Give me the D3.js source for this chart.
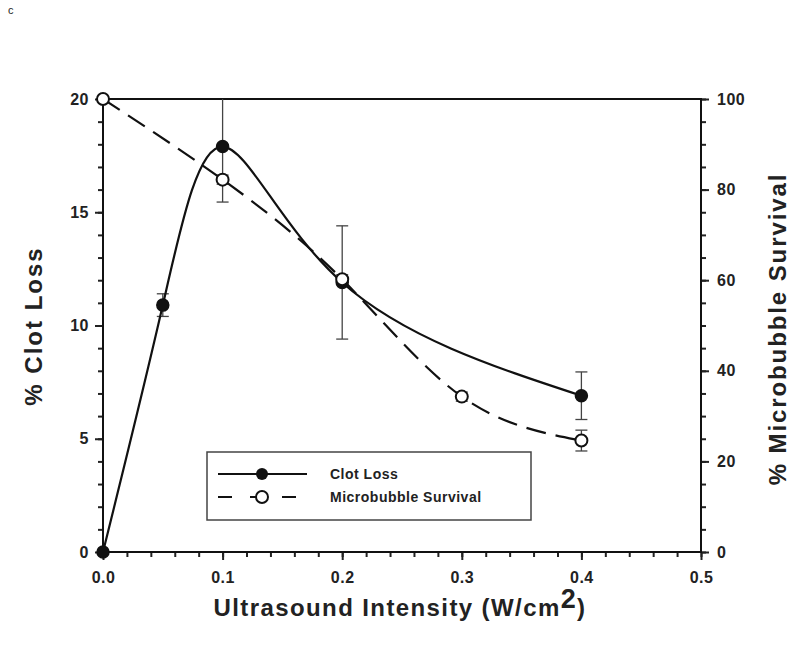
<!DOCTYPE html>
<html>
<head>
<meta charset="utf-8">
<script src="https://cdn.jsdelivr.net/npm/d3@7"></script>
<style>
  body { margin: 0; background: #fff; }
  text { font-family: "Liberation Sans", Arial, sans-serif; font-weight: bold; fill: #222; }
</style>
</head>
<body>
<svg id="chart" width="800" height="651"></svg>
<script>
// data
const clotX = [0, 0.05, 0.1, 0.2, 0.4];
const clotLoss = [0, 10.9, 17.9, 11.9, 6.9];
const clotErr = [0, 0.5, 2.45, 2.5, 1.05];

const bubbleX = [0, 0.1, 0.2, 0.3, 0.4];
const bubbleSurvival = [100, 82.2, 60.2, 34.3, 24.6];
const bubbleErr = [0, 1.0, 1.0, 1.0, 2.3];

const xTicks = [0, 0.1, 0.2, 0.3, 0.4, 0.5];
const leftTicks = [0, 5, 10, 15, 20];
const rightTicks = [0, 20, 40, 60, 80, 100];

const svg = d3.select("#chart");
const margin = {left: 103, right: 99, top: 99, bottom: 99};
const W = 800 - margin.left - margin.right;
const H = 651 - margin.top - margin.bottom;

const x = d3.scaleLinear().domain([0, 0.5]).range([0, W]);
const yL = d3.scaleLinear().domain([0, 20]).range([H, 0]);
const yR = d3.scaleLinear().domain([0, 100]).range([H, 0]);

svg.append("text").attr("x", 8).attr("y", 14)
    .style("font-size", "11px").style("font-weight", "normal").text("c");

const g = svg.append("g").attr("transform", `translate(${margin.left},${margin.top})`);

g.append("defs").append("clipPath").attr("id", "plotclip")
    .append("rect").attr("x", -10).attr("y", 0).attr("width", W + 20).attr("height", H + 10);

// minor ticks
function minor(axis, sel) {
    sel.call(axis);
    sel.select(".domain").remove();
    sel.selectAll("line").attr("stroke", "#222").attr("stroke-width", 2);
}
minor(d3.axisBottom(x).ticks(25).tickSize(5).tickFormat(""),
    g.append("g").attr("transform", `translate(0,${H})`));
minor(d3.axisLeft(yL).ticks(20).tickSize(5).tickFormat(""), g.append("g"));
minor(d3.axisRight(yR).ticks(25).tickSize(5).tickFormat(""),
    g.append("g").attr("transform", `translate(${W},0)`));

// major ticks with labels
function major(axis, sel) {
    sel.call(axis);
    sel.select(".domain").remove();
    sel.selectAll("line").attr("stroke", "#222").attr("stroke-width", 2);
    sel.selectAll("text").style("font-size", "16px").attr("fill", "#222")
        .style("letter-spacing", "0.5px")
        .style("font-family", "'Liberation Sans', Arial, sans-serif");
}
major(d3.axisBottom(x).tickValues(xTicks).tickSize(8).tickPadding(12).tickFormat(d3.format(".1f")),
    g.append("g").attr("transform", `translate(0,${H})`));
major(d3.axisLeft(yL).tickValues(leftTicks).tickSize(8).tickPadding(6), g.append("g"));
major(d3.axisRight(yR).tickValues(rightTicks).tickSize(8).tickPadding(8),
    g.append("g").attr("transform", `translate(${W},0)`));

// frame
g.append("rect").attr("width", W).attr("height", H)
    .attr("fill", "none").attr("stroke", "#111").attr("stroke-width", 2);

const plot = g.append("g").attr("clip-path", "url(#plotclip)");

// error bars
function errorBars(xs, ys, es, yScale) {
    xs.forEach((xv, i) => {
        if (!es[i]) return;
        const cx = x(xv), y1 = yScale(ys[i] + es[i]), y2 = yScale(ys[i] - es[i]);
        plot.append("line").attr("x1", cx).attr("x2", cx).attr("y1", y1).attr("y2", y2)
            .attr("stroke", "#444").attr("stroke-width", 1.3);
        [y1, y2].forEach(yy => plot.append("line")
            .attr("x1", cx - 6).attr("x2", cx + 6).attr("y1", yy).attr("y2", yy)
            .attr("stroke", "#444").attr("stroke-width", 1.3));
    });
}
errorBars(clotX, clotLoss, clotErr, yL);
errorBars(bubbleX, bubbleSurvival, bubbleErr, yR);

const clotLine = d3.line().x((d, i) => x(clotX[i])).y(d => yL(d)).curve(d3.curveNatural);
const bubbleLine = d3.line().x((d, i) => x(bubbleX[i])).y(d => yR(d)).curve(d3.curveNatural);

plot.append("path").attr("d", clotLine(clotLoss))
    .attr("fill", "none").attr("stroke", "#111").attr("stroke-width", 2.2);
plot.append("path").attr("d", bubbleLine(bubbleSurvival))
    .attr("fill", "none").attr("stroke", "#111").attr("stroke-width", 2.2)
    .attr("stroke-dasharray", "20,10");

// markers
g.selectAll(".clot").data(clotLoss).join("circle").attr("class", "clot")
    .attr("cx", (d, i) => x(clotX[i])).attr("cy", d => yL(d)).attr("r", 6)
    .attr("fill", "#111").attr("stroke", "#111").attr("stroke-width", 1.5);
g.selectAll(".bubble").data(bubbleSurvival).join("circle").attr("class", "bubble")
    .attr("cx", (d, i) => x(bubbleX[i])).attr("cy", d => yR(d)).attr("r", 6)
    .attr("fill", "#fff").attr("stroke", "#111").attr("stroke-width", 2);

// legend
const lg = svg.append("g").attr("transform", "translate(207,452)");
lg.append("rect").attr("width", 324).attr("height", 68)
    .attr("fill", "#fff").attr("stroke", "#444").attr("stroke-width", 1.5);
lg.append("line").attr("x1", 11).attr("x2", 100).attr("y1", 22).attr("y2", 22)
    .attr("stroke", "#111").attr("stroke-width", 2);
lg.append("circle").attr("cx", 55).attr("cy", 22).attr("r", 6).attr("fill", "#111");
lg.append("line").attr("x1", 11).attr("x2", 100).attr("y1", 45).attr("y2", 45)
    .attr("stroke", "#111").attr("stroke-width", 2).attr("stroke-dasharray", "14,18");
lg.append("circle").attr("cx", 55).attr("cy", 45).attr("r", 6)
    .attr("fill", "#fff").attr("stroke", "#111").attr("stroke-width", 2);
lg.append("text").attr("x", 123).attr("y", 27).style("font-size", "14px")
    .style("letter-spacing", "0.5px").text("Clot Loss");
lg.append("text").attr("x", 123).attr("y", 50).style("font-size", "14px")
    .style("letter-spacing", "0.5px").text("Microbubble Survival");

// axis titles
svg.append("text").attr("transform", `translate(42,326) rotate(-90)`)
    .attr("text-anchor", "middle").style("font-size", "24px")
    .style("letter-spacing", "2px").text("% Clot Loss");
svg.append("text").attr("transform", `translate(786,329) rotate(-90)`)
    .attr("text-anchor", "middle").style("font-size", "24px")
    .style("letter-spacing", "1.9px").text("% Microbubble Survival");
const xt = svg.append("text").attr("x", 400).attr("y", 616)
    .attr("text-anchor", "middle").style("font-size", "24px").style("letter-spacing", "1.4px");
xt.append("tspan").text("Ultrasound Intensity (W/cm");
xt.append("tspan").attr("dy", -8).style("font-size", "27px").text("2");
xt.append("tspan").attr("dy", 8).text(")");
</script>
</body>
</html>
